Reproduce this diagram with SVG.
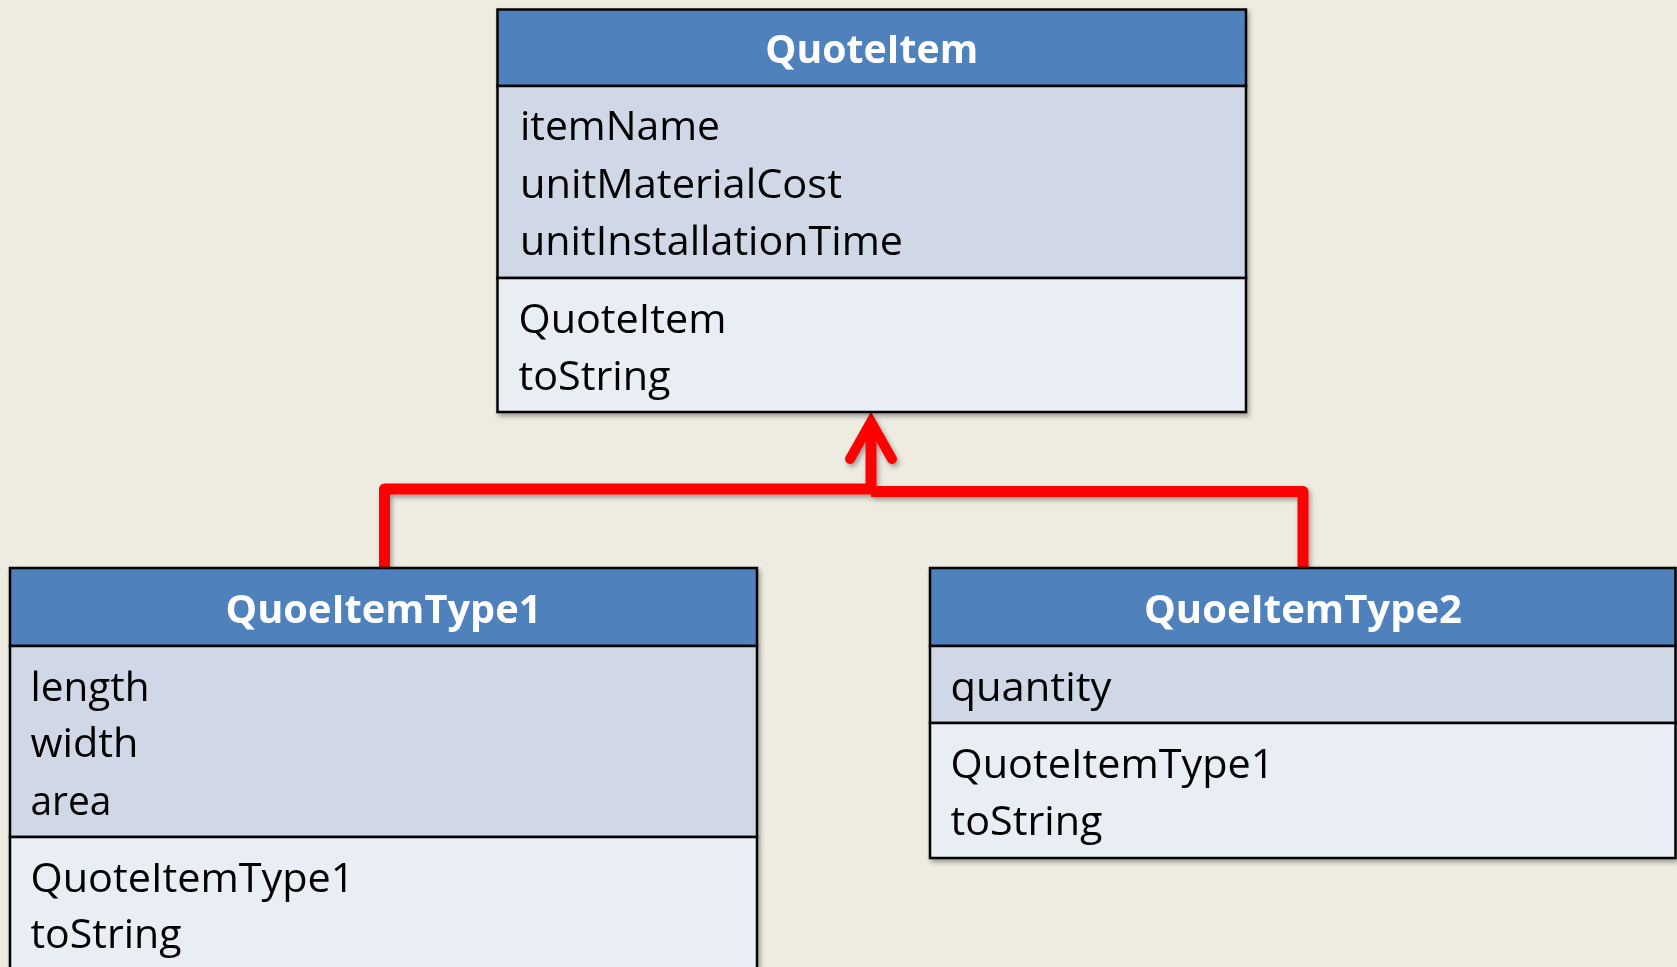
<svg xmlns="http://www.w3.org/2000/svg" width="1677" height="967" viewBox="0 0 1677 967">
  <style>
    .hdr { fill: #4F81BD; stroke: #000; stroke-width: 2.5; }
    .attr { fill: #D0D8E8; stroke: #000; stroke-width: 2.5; }
    .meth { fill: #E9EDF4; stroke: #000; stroke-width: 2.5; }
    .title { font-family: "Open Sans", "Noto Sans", "Liberation Sans", sans-serif; font-weight: bold; font-size: 40px; fill: #FFFFFF; text-anchor: middle; }
    .item { font-family: "Open Sans", "Noto Sans", "Liberation Sans", sans-serif; font-size: 40px; fill: #000000; }
    .conn { fill: none; stroke: #FF0000; stroke-width: 11; stroke-linejoin: round; }
  </style>
  <defs>
    <filter id="shadow" x="-10%" y="-10%" width="130%" height="130%">
      <feDropShadow dx="2" dy="3" stdDeviation="2.5" flood-color="#000" flood-opacity="0.35"/>
    </filter>
    <marker id="openArrow" markerUnits="userSpaceOnUse" orient="auto" refX="0" refY="0" markerWidth="60" markerHeight="60" viewBox="-50 -30 60 60" overflow="visible">
      <path d="M-37,-21 L0,0 L-37,21" fill="none" stroke="#FF0000" stroke-width="10" stroke-linecap="round" stroke-linejoin="miter"/>
    </marker>
  </defs>

  <rect x="0" y="0" width="1677" height="967" fill="#EEECE1"/>

  <g id="connectors" filter="url(#shadow)">
    <path class="conn" d="M1303,568 V491.5 H871"/>
    <path class="conn" d="M384.5,568 V489 H871 V422" marker-end="url(#openArrow)"/>
  </g>

  <g id="QuoteItem" filter="url(#shadow)">
    <rect class="hdr" x="497.5" y="9.5" width="748.5" height="76.5"/>
    <rect class="attr" x="497.5" y="86" width="748.5" height="192"/>
    <rect class="meth" x="497.5" y="278" width="748.5" height="134"/>
    <text class="title" x="871.7" y="63" textLength="213" lengthAdjust="spacingAndGlyphs">QuoteItem</text>
    <text class="item" x="520" y="140" textLength="200" lengthAdjust="spacingAndGlyphs">itemName</text>
    <text class="item" x="520" y="198" textLength="322" lengthAdjust="spacingAndGlyphs">unitMaterialCost</text>
    <text class="item" x="520" y="255" textLength="383" lengthAdjust="spacingAndGlyphs">unitInstallationTime</text>
    <text class="item" x="518.5" y="333" textLength="208" lengthAdjust="spacingAndGlyphs">QuoteItem</text>
    <text class="item" x="518.5" y="390" textLength="152" lengthAdjust="spacingAndGlyphs">toString</text>
  </g>

  <g id="QuoeItemType1" filter="url(#shadow)">
    <rect class="hdr" x="10" y="568" width="747" height="78"/>
    <rect class="attr" x="10" y="646" width="747" height="191"/>
    <rect class="meth" x="10" y="837" width="747" height="160"/>
    <text class="title" x="383.5" y="622.7" textLength="316" lengthAdjust="spacingAndGlyphs">QuoeItemType1</text>
    <text class="item" x="30.5" y="700.7" textLength="119" lengthAdjust="spacingAndGlyphs">length</text>
    <text class="item" x="30.5" y="757.3" textLength="108" lengthAdjust="spacingAndGlyphs">width</text>
    <text class="item" x="30.5" y="815" textLength="81" lengthAdjust="spacingAndGlyphs">area</text>
    <text class="item" x="30.5" y="891.7" textLength="324" lengthAdjust="spacingAndGlyphs">QuoteItemType1</text>
    <text class="item" x="30.5" y="948" textLength="151" lengthAdjust="spacingAndGlyphs">toString</text>
  </g>

  <g id="QuoeItemType2" filter="url(#shadow)">
    <rect class="hdr" x="930" y="568" width="745.5" height="78"/>
    <rect class="attr" x="930" y="646" width="745.5" height="77"/>
    <rect class="meth" x="930" y="723" width="745.5" height="135"/>
    <text class="title" x="1303" y="622.7" textLength="318" lengthAdjust="spacingAndGlyphs">QuoeItemType2</text>
    <text class="item" x="950.5" y="700.7" textLength="161" lengthAdjust="spacingAndGlyphs">quantity</text>
    <text class="item" x="950.5" y="778.3" textLength="324" lengthAdjust="spacingAndGlyphs">QuoteItemType1</text>
    <text class="item" x="950.5" y="834.5" textLength="152" lengthAdjust="spacingAndGlyphs">toString</text>
  </g>
</svg>
